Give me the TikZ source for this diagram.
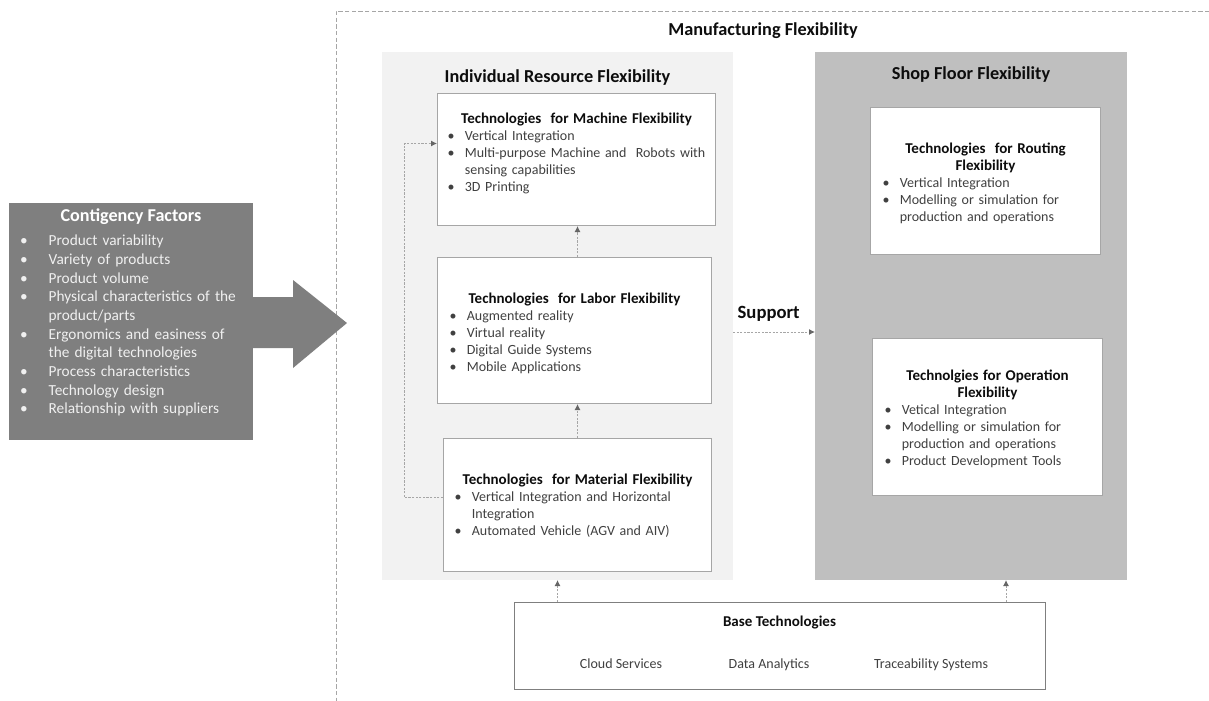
\documentclass[tikz,border=0pt]{standalone}
\usepackage{fontspec}
\setmainfont{Carlito}
\usetikzlibrary{arrows.meta,positioning,calc}

\definecolor{cfgray}{HTML}{7F7F7F}
\definecolor{panelgray}{HTML}{F2F2F2}
\definecolor{shopgray}{HTML}{BFBFBF}
\definecolor{edgegray}{HTML}{A6A6A6}
\definecolor{tipgray}{HTML}{666666}
\definecolor{textgray}{HTML}{404040}
\definecolor{titleblack}{HTML}{0D0D0D}

% one pixel of the drawing grid
\newcommand\pxu{0.75pt}
% bullet lines and titles inside the boxes
\newcommand\bitem[1]{\par\hangindent=13pt\hangafter=1\noindent\strut\makebox[13pt][l]{\textbullet}#1\par}
\newcommand\citem[1]{\par\hangindent=21.5pt\hangafter=1\noindent\strut\makebox[21.5pt][l]{\textbullet}#1\par}
\newcommand\btitle[1]{{\centering\fontsize{11.25}{12.75}\selectfont\bfseries\color{titleblack}\strut#1\par}}

\begin{document}
\begin{tikzpicture}[x=0.75pt,y=-0.75pt,
  panel/.style={anchor=north west,inner sep=0,outer sep=0},
  techbox/.style={draw=edgegray,line width=0.75pt,fill=white,anchor=north west,inner sep=0},
  boxtext/.style={anchor=north,inner sep=0,text width=#1,text=textgray,
    font=\fontsize{10.5}{12.75}\selectfont},
  ptitle/.style={anchor=base,inner sep=0,text=titleblack,font=\fontsize{13.7}{16}\selectfont\bfseries},
  basetext/.style={anchor=base,inner sep=0,text=textgray,font=\fontsize{10.5}{12.75}\selectfont},
  flow/.style={draw=edgegray,line width=0.75pt,dash pattern=on 1.6pt off 1.1pt,
    -{Latex[length=4.5pt,width=4.5pt,color=tipgray]}}]
  \useasboundingbox (0,0) rectangle (1209,700);

  % outer frame
  \node[panel,draw=edgegray,line width=0.6pt,dash pattern=on 3.2pt off 1.8pt,
    minimum width=900*\pxu,minimum height=720*\pxu] (mfg) at (336,11) {};
  \node[ptitle] (mfgtitle) at ($(mfg.north west)+(427,24)$) {Manufacturing Flexibility};

  % the two panels
  \node[panel,fill=panelgray,minimum width=351*\pxu,minimum height=528*\pxu] (irf) at (382,52) {};
  \node[panel,fill=shopgray,minimum width=312*\pxu,minimum height=528*\pxu] (sff) at (815,52) {};
  \node[ptitle] (irftitle) at ($(irf.north)+(0,30)$) {Individual Resource Flexibility};
  \node[ptitle] (sfftitle) at ($(sff.north)+(0,27)$) {Shop Floor Flexibility};

  % technology boxes
  \node[techbox,minimum width=278*\pxu,minimum height=132*\pxu] (machine) at (437,93) {};
  \node[techbox,minimum width=274*\pxu,minimum height=146*\pxu] (labor) at (437,257) {};
  \node[techbox,minimum width=268*\pxu,minimum height=133*\pxu] (material) at (443,438) {};
  \node[techbox,minimum width=230*\pxu,minimum height=147*\pxu] (routing) at (870,107) {};
  \node[techbox,minimum width=230*\pxu,minimum height=157*\pxu] (operation) at (872,338) {};

  \node[boxtext=258*\pxu] (machinetxt) at ($(machine.north)+(0,18)$) {\raggedright
    \btitle{Technologies\ \ for Machine Flexibility}%
    \bitem{Vertical Integration}%
    \bitem{Multi-purpose Machine and\ \ Robots with\newline sensing capabilities}%
    \bitem{3D Printing}};
  \node[boxtext=250*\pxu] (labortxt) at ($(labor.north)+(0,34)$) {\raggedright
    \btitle{Technologies\ \ for Labor Flexibility}%
    \bitem{Augmented reality}%
    \bitem{Virtual reality}%
    \bitem{Digital Guide Systems}%
    \bitem{Mobile Applications}};
  \node[boxtext=246*\pxu] (materialtxt) at ($(material.north)+(0,34)$) {\raggedright
    \btitle{Technologies\ \ for Material Flexibility}%
    \bitem{Vertical Integration and Horizontal\newline Integration}%
    \bitem{Automated Vehicle (AGV and AIV)}};
  \node[boxtext=206*\pxu] (routingtxt) at ($(routing.north)+(0,34)$) {\raggedright
    \btitle{Technologies\ \ for Routing\\Flexibility}%
    \bitem{Vertical Integration}%
    \bitem{Modelling or simulation for\newline production and operations}};
  \node[boxtext=206*\pxu] (operationtxt) at ($(operation.north)+(0,30)$) {\raggedright
    \btitle{Technolgies for Operation\\Flexibility}%
    \bitem{Vetical Integration}%
    \bitem{Modelling or simulation for\newline production and operations}%
    \bitem{Product Development Tools}};

  % base technologies
  \node[panel,draw=cfgray,line width=0.75pt,fill=white,
    minimum width=531*\pxu,minimum height=87*\pxu] (base) at (514,602) {};
  \node[basetext,font=\fontsize{11.25}{12.75}\selectfont\bfseries,text=titleblack]
    (basetitle) at ($(base.north)+(0,24)$) {Base Technologies};
  \node[basetext] (cloud) at ($(base.north west)+(107,66)$) {Cloud Services};
  \node[basetext] (data) at ($(base.north west)+(255,66)$) {Data Analytics};
  \node[basetext] (trace) at ($(base.north west)+(417,66)$) {Traceability Systems};

  % contingency factors
  \node[panel,fill=cfgray,minimum width=244*\pxu,minimum height=237*\pxu] (cf) at (9,203) {};
  \fill[cfgray] (253,297) -- (293,297) -- (293,280) -- (347,323) -- (293,368)
    -- (293,348) -- (253,348) -- cycle;
  \node[ptitle,font=\fontsize{13.6}{16}\selectfont\bfseries,text=white]
    (cftitle) at ($(cf.north)+(0,18)$) {Contigency Factors};
  \node[panel,text width=235*\pxu,text=gray!12,
    font=\fontsize{11.5}{14}\selectfont] (cflist) at ($(cf.north west)+(11,24)$) {\raggedright
    \citem{Product variability}%
    \citem{Variety of products}%
    \citem{Product volume}%
    \citem{Physical characteristics of the\newline product/parts}%
    \citem{Ergonomics and easiness of\newline the digital technologies}%
    \citem{Process characteristics}%
    \citem{Technology design}%
    \citem{Relationship with suppliers}};

  % connectors
  \draw[flow] (material.north) -- (material.north |- labor.south);
  \draw[flow] (material.north |- labor.north) -- (material.north |- machine.south);
  \draw[flow] ($(material.west)+(0,-7.5)$) -- ++(-39,0) |- ($(machine.west)+(0,-16)$);
  \draw[flow] ($(irf.east)+(0,16)$) -- node[above=7.5pt,inner sep=0,xshift=-4pt,
    font=\fontsize{14}{16}\selectfont\bfseries,text=titleblack] {Support} ($(sff.west)+(0,16)$);
  \draw[flow] (base.north -| irf.south) -- (irf.south);
  \draw[flow] ($(base.north -| sff.south)+(35,0)$) -- ($(sff.south)+(35,0)$);
\end{tikzpicture}
\end{document}
